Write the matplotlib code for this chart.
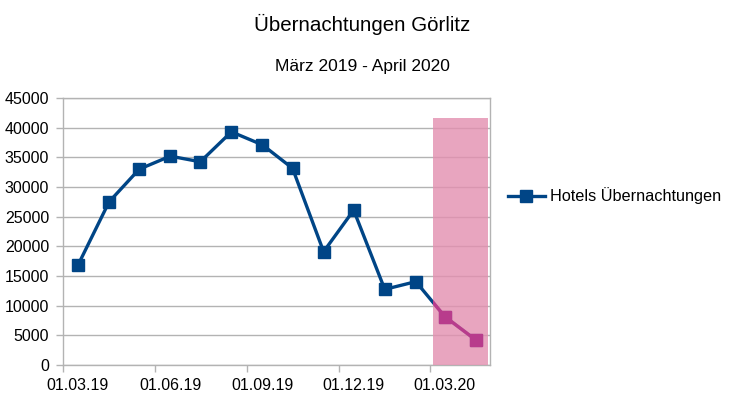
import matplotlib
matplotlib.use("Agg")
import matplotlib.pyplot as plt
import matplotlib.dates as mdates
from matplotlib.patches import Rectangle
from matplotlib.transforms import ScaledTranslation
import datetime as dt

plt.rcParams['font.family'] = ['Liberation Sans', 'DejaVu Sans']

# monthly values (plotted mid-month)
months = ["2019-03", "2019-04", "2019-05", "2019-06", "2019-07", "2019-08", "2019-09",
          "2019-10", "2019-11", "2019-12", "2020-01", "2020-02", "2020-03", "2020-04"]
hotels = [16850, 27500, 33000, 35200, 34250, 39300, 37100,
          33150, 19100, 26100, 12750, 14050, 8150, 4200]
series_name = "Hotels Übernachtungen"
tick_dates = ["2019-03-01", "2019-06-01", "2019-09-01", "2019-12-01", "2020-03-01"]

dates = [dt.datetime.strptime(m + "-16", "%Y-%m-%d") for m in months]
ticks = [dt.datetime.strptime(d, "%Y-%m-%d") for d in tick_dates]

blue = "#004586"
magenta = "#b83c8c"
grey = "#b3b3b3"

fig = plt.figure(figsize=(7.33, 3.97), dpi=100)
ax = fig.add_axes([63 / 733, 1 - 365 / 397, 427 / 733, 267 / 397])

ax.plot(dates, hotels, color=blue, lw=2.4, marker="s", ms=8, zorder=3, label=series_name)

# highlighted corona period
x0 = mdates.date2num(dt.datetime(2020, 3, 4))
x1 = mdates.date2num(dt.datetime(2020, 4, 28))
rect = Rectangle((x0, 0), x1 - x0, 41700, facecolor="#e38fb0", alpha=0.8, lw=0, zorder=4)
ax.add_patch(rect)
hl, = ax.plot(dates, hotels, color=magenta, lw=2.4, marker="s", ms=8, zorder=5)
hl.set_clip_path(rect)

ax.set_xlim(dt.datetime(2019, 3, 1), dt.datetime(2020, 4, 30))
ax.set_ylim(0, 45000)
ax.set_yticks(range(0, 45001, 5000))
ax.set_xticks(ticks)
ax.xaxis.set_major_formatter(mdates.DateFormatter("%d.%m.%y"))
ax.grid(axis="y", color=grey, lw=1, zorder=0)
ax.set_axisbelow(True)
for s in ax.spines.values():
    s.set_color(grey)
    s.set_linewidth(1)
ax.tick_params(colors=grey, length=5, width=1, labelsize=11.5, labelcolor="black")
ax.tick_params(axis="y", pad=5)
ax.tick_params(axis="x", pad=4)

# date labels sit half a month right of their tick
shift = ScaledTranslation(15 / 100, 0, fig.dpi_scale_trans)
for lab in ax.get_xticklabels():
    lab.set_transform(lab.get_transform() + shift)

fig.text(362 / 733, 1 - 24 / 397, "Übernachtungen Görlitz", ha="center", va="center", fontsize=14.8)
fig.text(362 / 733, 1 - 66 / 397, "März 2019 - April 2020", ha="center", va="center", fontsize=12.5)

fig.legend(handles=[ax.lines[0]], labels=[series_name], loc="center left",
           bbox_to_anchor=(493 / 733, 1 - 196 / 397), frameon=False, fontsize=11.7,
           handlelength=2.3, handletextpad=0.3)

fig.savefig("out.png", dpi=100)
